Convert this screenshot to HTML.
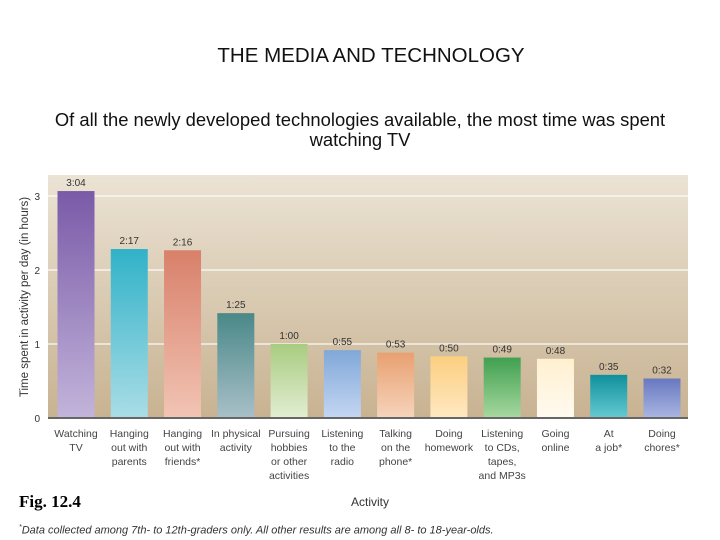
<!DOCTYPE html>
<html><head><meta charset="utf-8"><style>
body{margin:0;width:720px;height:540px;background:#fff;overflow:hidden;font-family:"Liberation Sans",sans-serif}
.t{position:absolute;white-space:nowrap}
</style></head><body>
<div class="t" style="left:0;width:742px;text-align:center;top:44px;font-size:20.5px;color:#111">THE MEDIA AND TECHNOLOGY</div>
<div class="t" style="left:0;width:720px;text-align:center;top:110px;font-size:18.4px;line-height:20px;color:#111">Of all the newly developed technologies available, the most time was spent<br>watching TV</div>
<svg id="c" width="720" height="540" style="position:absolute;left:0;top:0">
<defs><linearGradient id="bg" x1="0" y1="0" x2="0" y2="1"><stop offset="0" stop-color="#ebe3d4"/><stop offset="1" stop-color="#c8b291"/></linearGradient></defs>
</svg>
<div class="t" style="left:19px;top:492px;font-family:'Liberation Serif',serif;font-weight:bold;font-size:17px">Fig. 12.4</div>
<div class="t" style="left:351px;top:495px;font-size:12px;color:#333">Activity</div>
<div class="t" style="left:19px;top:524px;font-size:11px;font-style:italic;color:#333"><sup style="font-size:7px">*</sup>Data collected among 7th- to 12th-graders only. All other results are among all 8- to 18-year-olds.</div>
<script>
const categories=[["Watching","TV"],["Hanging","out with","parents"],["Hanging","out with","friends*"],["In physical","activity"],["Pursuing","hobbies","or other","activities"],["Listening","to the","radio"],["Talking","on the","phone*"],["Doing","homework"],["Listening","to CDs,","tapes,","and MP3s"],["Going","online"],["At","a job*"],["Doing","chores*"]];
const minutes=[184,137,136,85,60,55,53,50,49,48,35,32];
const valueLabels=["3:04","2:17","2:16","1:25","1:00","0:55","0:53","0:50","0:49","0:48","0:35","0:32"];
const yTicks=[0,1,2,3];
const colorsTop=["#7a5aa8","#30b2c8","#d8806a","#4a8888","#a8cc80","#80a8d8","#e8a070","#fccf80","#40a050","#fff0d0","#10909c","#6878c0"];
const colorsBottom=["#c2b4da","#aadde6","#f2c4b4","#a8c0c8","#e2eed2","#c4d6f2","#f6d4bc","#fee8c2","#a8d8a0","#fffaf0","#66cad2","#aab6e2"];
const svg=document.getElementById('c');const NS="http://www.w3.org/2000/svg";
const L=48,R=688,T=175,B=418,PX=74;
const y=v=>B-v*PX;const step=(R-L-54)/(categories.length-1);const cx=i=>L+28+i*step;const bw=37;
function mk(t,a,p){const e=document.createElementNS(NS,t);for(const k in a)e.setAttribute(k,a[k]);(p||svg).appendChild(e);return e;}
const bg=mk('rect',{x:L,y:T,width:R-L,height:B-T,fill:'url(#bg)'});

const defs=svg.querySelector('defs');
yTicks.forEach(v=>{
 if(v>0){const g=mk('line',{x1:L,x2:R,y1:y(v),y2:y(v),stroke:'#fff','stroke-width':1.3,opacity:0.9});
 }
 const t=mk('text',{x:40,y:y(v)+4,'text-anchor':'end','font-size':10,fill:'#333'});t.textContent=v;
 
});
minutes.forEach((m,i)=>{
 const h=m/60;
 const gr=mk('linearGradient',{id:'g'+i,x1:0,y1:0,x2:0,y2:1},defs);
 mk('stop',{offset:0,'stop-color':colorsTop[i]},gr);mk('stop',{offset:1,'stop-color':colorsBottom[i]},gr);
 const r=mk('rect',{x:cx(i)-bw/2,y:y(h),width:bw,height:B-y(h),fill:'url(#g'+i+')'});
 
 const v=mk('text',{x:cx(i),y:y(h)-5,'text-anchor':'middle','font-size':10,fill:'#333'});v.textContent=valueLabels[i];
 
 const t=mk('text',{x:cx(i),y:437,'text-anchor':'middle','font-size':10.5,fill:'#444'});
 
 categories[i].forEach((ln,j)=>{const s=mk('tspan',{x:cx(i),dy:j?14:0},t);s.textContent=ln;});
});
const ax=mk('line',{x1:L,x2:R,y1:B,y2:B,stroke:'#666','stroke-width':2});

const yt=mk('text',{x:0,y:0,transform:'translate(28,297) rotate(-90)','text-anchor':'middle','font-size':11.5,fill:'#333'});
yt.textContent='Time spent in activity per day (in hours)';

</script>
</body></html>
